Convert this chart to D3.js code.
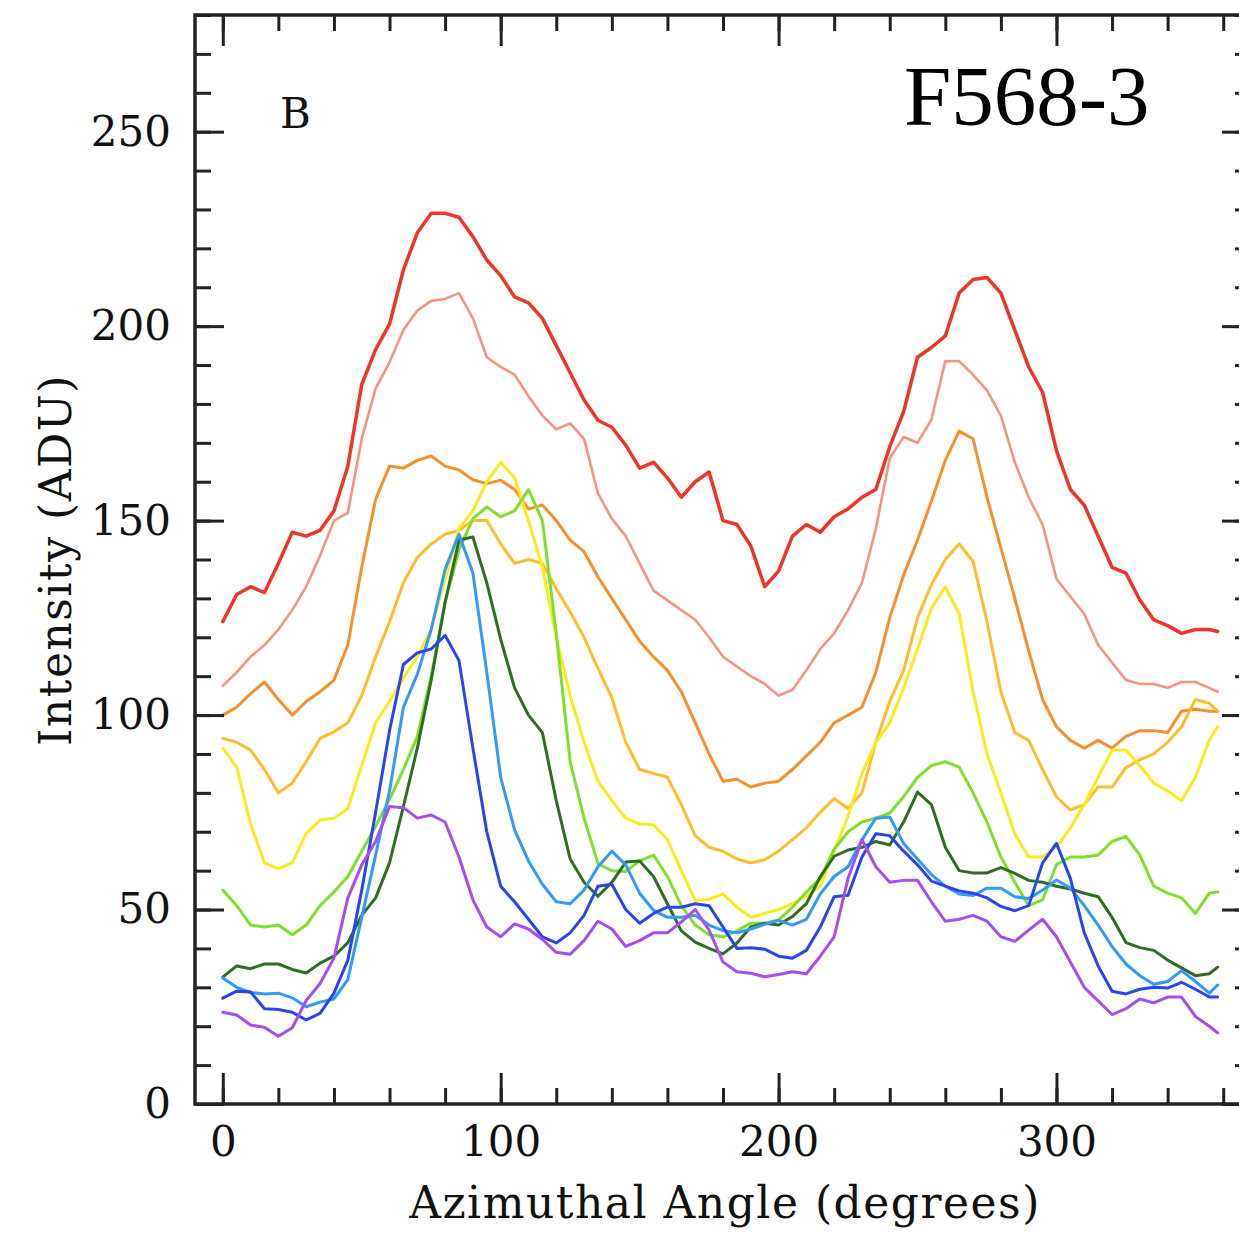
<!DOCTYPE html>
<html>
<head>
<meta charset="utf-8">
<script src="https://cdn.jsdelivr.net/npm/d3@7"></script>
<style>
  html, body { margin: 0; padding: 0; background: #fff; }
  svg { display: block; }
</style>
</head>
<body>
<svg id="chart" width="1239" height="1240"></svg>
<script>
// ---- Data ----
const angles = [0,5,10,15,20,25,30,35,40,45,50,55,60,65,70,75,80,85,90,95,100,105,110,115,120,125,130,135,140,145,150,155,160,165,170,175,180,185,190,195,200,205,210,215,220,225,230,235,240,245,250,255,260,265,270,275,280,285,290,295,300,305,310,315,320,325,330,335,340,345,350,355,358];

const red = [124,131,133,131.5,139,147,146,147.5,152.5,164,
  185,194,200.5,214.5,224,229,229,228,223,217,
  213,207.5,206,202,195,188,181,175.8,174,169.4,
  163.5,165,161,156,160,162.5,150,149,143.5,133,
  137,146,149,147,151,153,156,158,169,178,
  192,194.5,197.5,208.5,212,212.5,208.5,199,189.5,183,
  168,158,154,146,138,136.5,129.6,124.5,123,121,
  122,122,121.5];

const salmon = [107.5,111,115,118,122,127,133,141,150,152,
  171,184,190.7,199,204,206.5,207,208.5,202,192,
  189.5,187.5,182,177,173.5,175,171,157,150.5,146,
  139,132,129.5,127,124.5,120,115,112.5,110,108,
  105,106.5,111.5,117,121,127,134,148,166,171.5,
  170,176,191,191,187.5,183.5,177,165,156,149,
  135,130.5,126,118,113.5,109,108,108,107,108.5,
  108.5,107,106];

const orange = [100,102,105.5,108.5,104,100,103.5,106,109,118,
  138,155.5,164,163.5,165.5,166.6,164,163,160.5,159.5,
  160.4,158,153,154,150,145,142,135.5,130,124.5,
  119,115,111.5,106,98,90,83,83.5,81.5,82.5,
  83,86,89.5,93,98,100,102,111,125,136,
  145,155,165.5,173,171,156,143,130,116.5,104,
  97,93.5,91.5,93.5,91.5,94.5,96,96,95.5,101,
  101.5,101,101];

const gold = [94,93,91,86,80,82.5,88,94,95.7,98,
  105,115,124,134,140.5,144,146.5,147.5,150,150,
  144,139,140,139,132.5,126.5,120,112,104.5,93,
  86,85,84,77,69,66,65,63,62,62.8,
  65,68,71,75,78.5,76,80,93,103.5,111.5,
  125,133.5,140,144,139.5,124,106,95.5,93.5,86,
  79,75.6,77,81.5,81.5,86.5,88.5,90,93,97,
  104,103,101];

const yellow = [91.5,86.6,72,62,60.5,62,69.5,73,73.5,76,
  87,98,103.5,109.5,115,122,135,148,152.5,160,
  165,161,150,138,120,105,93,83,78,73.5,
  72,71.8,68,60,52.4,52.6,54,50.6,48,49,
  50,51.5,53.5,56,65,74,85,93,98,107,
  117,127.5,133,126,106,90,80,69.5,63.5,63.5,
  66,71,77,84,91,91,87,82.5,80.5,78,
  84,93.6,97];

const lightGreen = [55,51,46,45.5,46,43.5,46,51,54.5,58.5,
  65,71.5,78.3,86,94.5,110,129,142.5,150.5,153.5,
  151,152.5,158,150,121,88,73.5,61.8,60,59.8,
  62.5,64,58.5,51,46,43.5,43,44.5,46.5,46.5,
  47.3,50.6,54.5,58,65.5,70,72.5,73.5,74.8,79,
  84,87,88,86.6,80,72.5,63.5,57,51,52.5,
  61.5,63.5,63.5,64,67.5,68.8,64,56,54.2,53,
  49,54.2,54.5];

const darkGreen = [32.6,35.5,34.8,36,36,34.6,33.7,36.2,38,41.5,
  48.5,53,62,76.5,91.5,109,129,145,145.8,134,
  119.5,107,100,95.5,78,63,57,53.4,57,62.2,
  62.5,58.5,51.5,44.5,41.6,40,38.6,41.4,45.5,46.5,
  46,48.2,51.5,58.4,63.7,65.3,66,67.5,66.6,72.5,
  80.2,77,66,60,59.4,59.4,60.8,59.3,57.5,57,
  56,55.3,54.2,53.3,48,41.5,40.2,39.5,37,35,
  33,33.5,35.2];

const lightBlue = [32.4,30,28.7,28.3,28.5,27.3,25,26.2,27,32,
  48,64,80.5,102,110.5,122,137.5,146.5,136.5,111,
  84,70.5,62.5,56.5,52,51.5,55,61,65,61.5,
  54.2,49.8,48,48,48.5,46,44.6,44,45,46.2,
  47.2,46,47.5,54,58.5,61,67.9,73.5,73.8,67,
  63,59,56,54,53.6,55.5,55.5,53.3,52.8,55,
  57.6,55.5,51,46,40.5,36,33,30.8,31.5,34.3,
  31.5,28.5,30.6];

const blue = [27.2,29,28.8,24.5,24.3,23.6,21.6,23.3,28.5,37,
  55,75,96,113,116,117,120.5,114,91.5,70,
  56,52,47.5,43,41.4,44,48.5,56,56.5,50,
  46.5,49,50.6,50.6,51.5,51,45.5,40,40.2,39.8,
  38,37.5,39.5,45.5,53.3,53.7,63.5,69.5,69,65,
  61.5,57.3,56,54.8,54.2,53,50.8,49.7,51,62,
  67,58,44,35.5,29,28.3,29.5,30,29.8,31.3,
  29.5,27.5,27.5];

const purple = [23.6,22.9,20.3,19.7,17.4,19.6,26.6,31,37.5,53,
  61.5,67.5,76.5,76.2,73.5,74.3,72.5,63.5,52.5,45.5,
  43,46.3,45,42.3,39,38.5,42,47,45,40.5,
  42,44,44,46.8,50,44.7,36.5,34,33.6,32.7,
  33.3,34,33.5,38,43,58,68,61,57,57.5,
  57.5,52,47,47.5,48.5,47,43,41.8,44.7,47.5,
  43,36.5,30,26.5,23,24.5,27,26,27.5,27.5,
  22.5,20,18.3];

const seriesNames = ["red","salmon","orange","gold","yellow","lightGreen","darkGreen","lightBlue","blue","purple"];
const seriesValues = [red, salmon, orange, gold, yellow, lightGreen, darkGreen, lightBlue, blue, purple];
const seriesColors = ["#ee3526","#f69383","#f5902c","#ffbd2e","#fbea1c","#7ee02a","#2f6e22","#3399fb","#2a44f0","#a84ef0"];
const seriesWidths = [3.5, 2.6, 3, 3, 3, 3, 3, 3, 3, 3];

const xMajorTicks = [0,100,200,300];
const xMinorTicks = [0,20,40,60,80,100,120,140,160,180,200,220,240,260,280,300,320,340,360];
const yMajorTicks = [0,50,100,150,200,250];
const yMinorTicks = [0,10,20,30,40,50,60,70,80,90,100,110,120,130,140,150,160,170,180,190,200,210,220,230,240,250,260,270,280];

const xTitle = "Azimuthal Angle (degrees)";
const yTitle = "Intensity (ADU)";
const panelLabel = "B";
const galaxyLabel = "F568-3";

// ---- Layout ----
const L = 195, R = 1251, T = 15, B = 1104;
const svg = d3.select("#chart");

const x = d3.scaleLinear().domain([-10, 370]).range([L, R]);
const y = d3.scaleLinear().domain([0, 280]).range([B, T]);

const tickFont = "DejaVu Serif";
const tickColor = "#222";

// Lines
const line = d3.line()
  .x((d, i) => x(angles[i]))
  .y(d => y(d))
  .curve(d3.curveLinear);

svg.append("g").selectAll("path")
  .data(seriesValues)
  .join("path")
  .attr("d", d => line(d))
  .attr("fill", "none")
  .attr("stroke", (d, i) => seriesColors[i])
  .attr("stroke-width", (d, i) => seriesWidths[i])
  .attr("stroke-linejoin", "round")
  .attr("stroke-linecap", "round");

// Axes: ticks pointing inward
function styleAxis(g) {
  g.select(".domain").remove();
  g.selectAll(".tick line").attr("stroke", tickColor).attr("stroke-width", 3);
  g.selectAll(".tick text").attr("font-family", tickFont).attr("font-size", 42).attr("fill", "#111");
}

// bottom
svg.append("g").attr("transform", `translate(0,${B})`)
  .call(d3.axisBottom(x).tickValues(xMinorTicks).tickSize(-16).tickFormat(""))
  .call(styleAxis);
svg.append("g").attr("transform", `translate(0,${B})`)
  .call(d3.axisBottom(x).tickValues(xMajorTicks).tickSize(-31).tickPadding(22).tickFormat(d3.format("d")))
  .call(styleAxis);
// top
svg.append("g").attr("transform", `translate(0,${T})`)
  .call(d3.axisTop(x).tickValues(xMinorTicks).tickSize(-16).tickFormat(""))
  .call(styleAxis);
svg.append("g").attr("transform", `translate(0,${T})`)
  .call(d3.axisTop(x).tickValues(xMajorTicks).tickSize(-31).tickFormat(""))
  .call(styleAxis);
// left
svg.append("g").attr("transform", `translate(${L},0)`)
  .call(d3.axisLeft(y).tickValues(yMinorTicks).tickSize(-16).tickFormat(""))
  .call(styleAxis);
svg.append("g").attr("transform", `translate(${L},0)`)
  .call(d3.axisLeft(y).tickValues(yMajorTicks).tickSize(-29).tickPadding(24).tickFormat(d3.format("d")))
  .call(styleAxis);
// right
svg.append("g").attr("transform", `translate(${R},0)`)
  .call(d3.axisRight(y).tickValues(yMinorTicks).tickSize(-16).tickFormat(""))
  .call(styleAxis);
svg.append("g").attr("transform", `translate(${R},0)`)
  .call(d3.axisRight(y).tickValues(yMajorTicks).tickSize(-29).tickFormat(""))
  .call(styleAxis);

// Frame
svg.append("rect")
  .attr("x", L).attr("y", T)
  .attr("width", R - L).attr("height", B - T)
  .attr("fill", "none").attr("stroke", tickColor).attr("stroke-width", 3.5);

// Titles
svg.append("text")
  .attr("x", 725).attr("y", 1218)
  .attr("text-anchor", "middle")
  .attr("font-family", tickFont).attr("font-size", 44)
  .attr("letter-spacing", 1.5).attr("fill", "#111")
  .text(xTitle);

svg.append("text")
  .attr("transform", "translate(71,560) rotate(-90)")
  .attr("text-anchor", "middle")
  .attr("font-family", tickFont).attr("font-size", 44)
  .attr("letter-spacing", 1.5).attr("fill", "#111")
  .text(yTitle);

svg.append("text")
  .attr("x", 280).attr("y", 128)
  .attr("font-family", tickFont).attr("font-size", 42).attr("fill", "#111")
  .text(panelLabel);

svg.append("text")
  .attr("x", 904).attr("y", 125)
  .attr("font-family", "Liberation Serif").attr("font-size", 85).attr("fill", "#000")
  .text(galaxyLabel);
</script>
</body>
</html>
